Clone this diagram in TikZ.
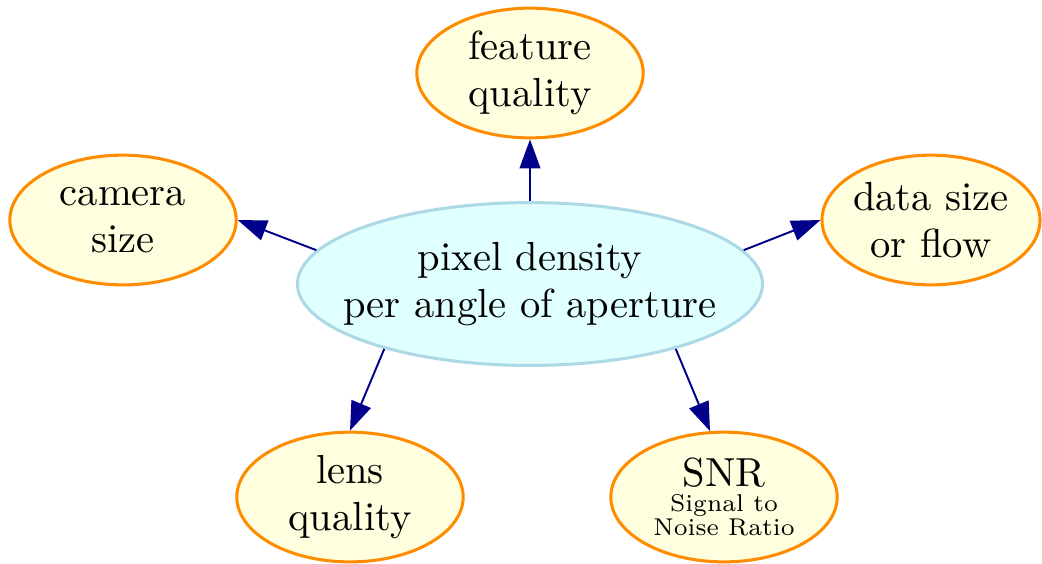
\documentclass[tikz,border=0pt]{standalone}
\usepackage{fontspec}
\newfontfamily\labelfont{lmroman10-regular.otf}
\newfontfamily\notefont{lmroman7-regular.otf}
\usepackage{tikz}
\usetikzlibrary{arrows.meta,shapes.geometric}
\definecolor{leaffill}{HTML}{FFFFE0}
\definecolor{leafline}{HTML}{FF8C00}
\definecolor{corefill}{HTML}{E0FFFF}
\definecolor{coreline}{HTML}{ADD8E6}
\definecolor{linkcol}{HTML}{00008B}
\tikzset{
  factor/.style={ellipse,draw=leafline,fill=leaffill,line width=1.1pt,inner sep=-14pt,
    minimum width=82pt,minimum height=47pt,align=center,font=\labelfont\fontsize{14.7}{17}\selectfont},
  core/.style={factor,draw=coreline,fill=corefill,minimum width=168.5pt,minimum height=59pt},
  link/.style={draw=linkcol,line width=0.7pt,-{Triangle[length=10.5pt,width=7.5pt]}}
}
\begin{document}
\begin{tikzpicture}[x=0.3623pt,y=-0.3623pt]
\useasboundingbox (0,0) rectangle (1042,563);
\node[core] (density) at (530,284) {pixel density\\per angle of aperture};
\node[factor] (feature) at (530,73) {feature\\quality};
\node[factor] (camera) at (123,220) {camera\\size};
\node[factor,minimum width=79pt] (data) at (931,220) {data size\\or flow};
\node[factor] (lens) at (350,497) {lens\\quality};
\node[factor] (snr) at (724,497) {SNR\\[-8pt]{\notefont\fontsize{8.8}{9}\selectfont Signal to}\\[-8pt]{\notefont\fontsize{8.8}{9}\selectfont Noise Ratio}};
% links start on the core ellipse and end on each factor
\draw[link] (density.90) -- (feature.south);
\draw[link] (density.171) -- (camera.east);
\draw[link] (density.9) -- (data.west);
\draw[link] (density.204) -- (lens.north);
\draw[link] (density.336) -- (snr.102);
\end{tikzpicture}
\end{document}
